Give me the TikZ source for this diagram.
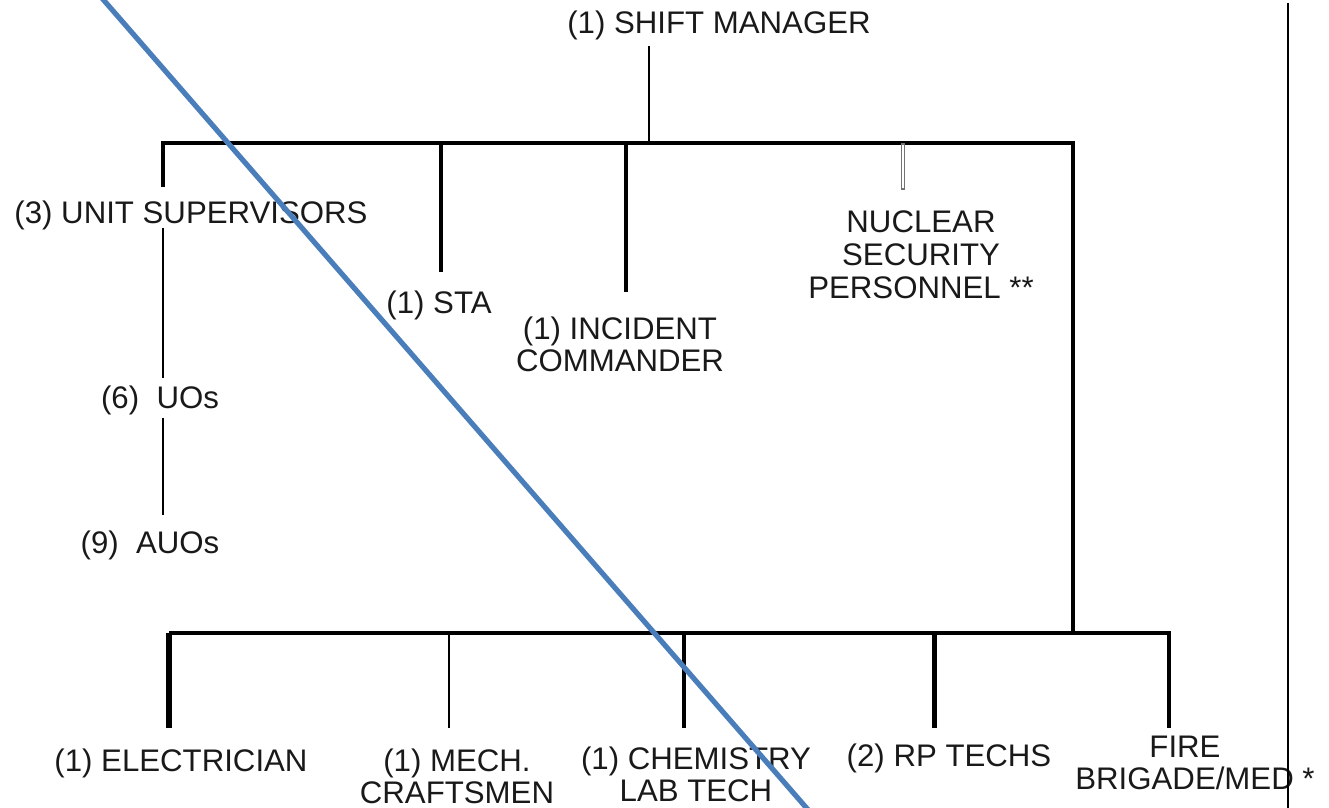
\documentclass[tikz,border=0pt]{standalone}
\usepackage{fontspec}
\setmainfont{Liberation Sans}
\definecolor{diag}{RGB}{74,126,187}
\definecolor{txt}{RGB}{25,25,25}
\begin{document}
\begin{tikzpicture}[x=0.5pt,y=-0.5pt,
  lbl/.style={inner sep=0pt, anchor=base, font=\fontsize{15.6}{16.25}\selectfont, text=txt},
  wire/.style={line width=#1, black},
  wire/.default=1.5pt]
\useasboundingbox (0,0) rectangle (1329,808);
\newcommand{\stk}[1]{\begin{tabular}[t]{@{}c@{}}#1\end{tabular}}

% labels
\node[lbl] (sm) at (719,34) {(1) SHIFT MANAGER};
\node[lbl] (us) at (191,223) {(3) UNIT SUPERVISORS};
\node[lbl] (uo) at (160,408) {(6)\ \ UOs};
\node[lbl] (auo) at (150,553) {(9)\ \ AUOs};
\node[lbl] (sta) at (439,313) {(1) STA};
\node[lbl] (ic) at (620,339) {\stk{(1) INCIDENT\\COMMANDER}};
\node[lbl] (nsp) at (921,233) {\stk{NUCLEAR\\SECURITY\\PERSONNEL **}};
\node[lbl] (el) at (181,771) {(1) ELECTRICIAN};
\node[lbl] (mech) at (457,771) {\stk{(1) MECH.\\CRAFTSMEN}};
\node[lbl] (chem) at (696,769) {\stk{(1) CHEMISTRY\\LAB TECH}};
\node[lbl] (rp) at (949,766) {(2) RP TECHS};
\node[lbl] (fire) at (1195,757) {\stk{FIRE\kern10pt\\BRIGADE/MED *}};

% junction coordinates
\coordinate (smb) at (649,46);
\coordinate (smj) at (649,143);
\coordinate (tl) at (163,143);
\coordinate (tr) at (1073,143);
\coordinate (usa) at (163,187);
\coordinate (usb) at (163,228);
\coordinate (usc) at (163,378);
\coordinate (uob) at (163,418);
\coordinate (uoc) at (163,515);
\coordinate (staj) at (441,143);
\coordinate (stae) at (441,272);
\coordinate (icj) at (626,143);
\coordinate (ice) at (626,292);
\coordinate (nsj) at (903,143);
\coordinate (nse) at (903,190);
\coordinate (br) at (1073,633);
\coordinate (bl) at (169,633);
\coordinate (bfr) at (1169,633);

% top structure
\draw[wire=1.4pt] (smb) -- (smj);
\draw[wire=1.6pt, line join=miter] (usa) -- (tl) -- (tr) -- (br);
\draw[wire=1.3pt] (usb) -- (usc);
\draw[wire=1.3pt] (uob) -- (uoc);
\draw[wire=1.6pt] (staj) -- (stae);
\draw[wire=2.1pt] (icj) -- (ice);
\draw[line width=2.2pt, black!55] (nsj) -- (nse);
\draw[line width=1.1pt, white] ([yshift=-1pt]nsj) -- ([yshift=1.2pt]nse);

% bottom structure
\draw[wire=2.6pt] (169,728) -- (bl);
\draw[wire=1.6pt, line join=miter] (bl) -- (bfr) -- (1169,728);
\draw[wire=1.4pt] (449,633) -- (449,728);
\draw[wire=2.1pt] (684,633) -- (684,728);
\draw[wire=2.5pt] (934,633) -- (934,728);

% right border line
\draw[line width=1.1pt, black] (1288,3) -- (1288,808);

% diagonal
\begin{scope}
\clip (0,0) rectangle (1329,808);
\draw[line width=2.6pt, diag] (101,-3) -- (810,812);
\end{scope}
\end{tikzpicture}
\end{document}
